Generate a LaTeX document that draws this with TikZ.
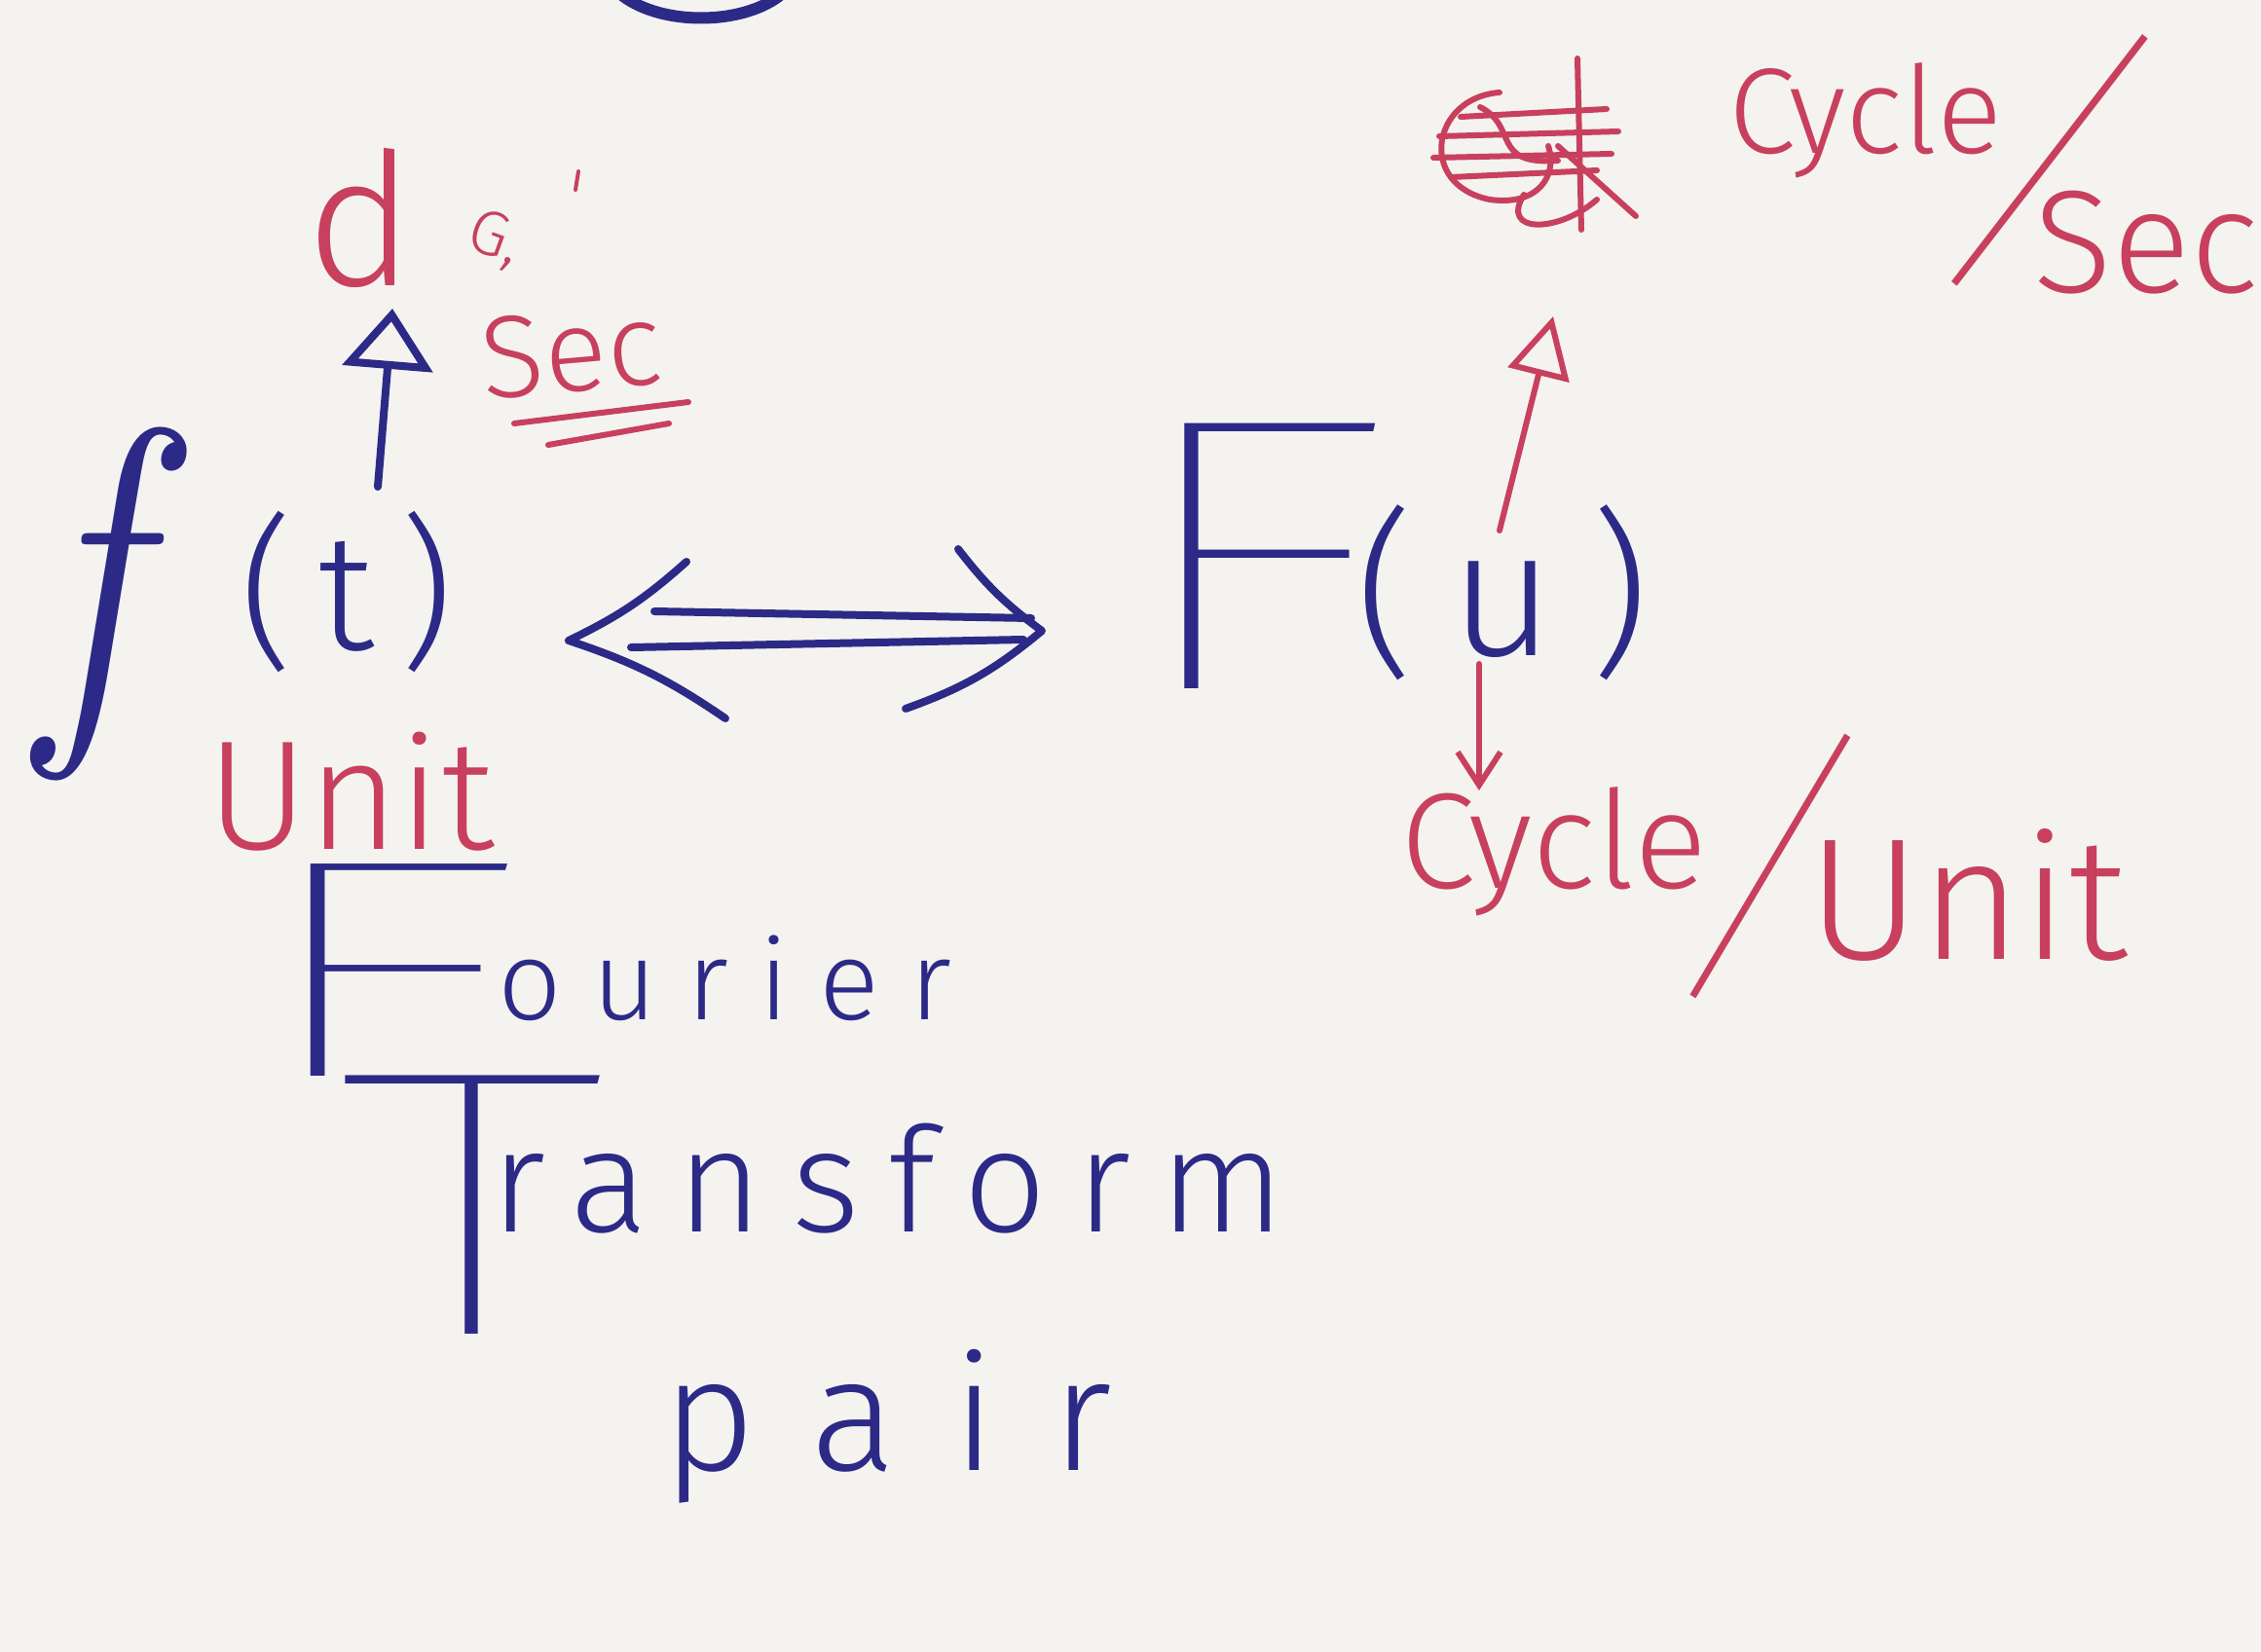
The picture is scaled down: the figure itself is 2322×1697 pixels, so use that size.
\documentclass[tikz,border=0pt]{standalone}
\usepackage{fontspec}
\usetikzlibrary{arrows.meta,calc}
\IfFontExistsTF{Fira Sans Light}{\newfontfamily\inkL{Fira Sans Light}}{\newfontfamily\inkL{Fira Sans}}
\IfFontExistsTF{Fira Sans Thin}{\newfontfamily\inkT{Fira Sans Thin}}{%
  \IfFontExistsTF{Fira Sans ExtraLight}{\newfontfamily\inkT{Fira Sans ExtraLight}}{\newfontfamily\inkT{Fira Sans}}}
\definecolor{paper}{HTML}{F4F3F0}
\definecolor{blueink}{HTML}{2C2A86}
\definecolor{redink}{HTML}{C8405E}
\newcommand\fsz[1]{\fontsize{#1}{#1}\selectfont}
\tikzset{
  bstroke/.style={draw=blueink, line width=8pt, line cap=round, line join=round},
  rstroke/.style={draw=redink, line width=6pt, line cap=round, line join=round},
  btext/.style={text=blueink, inner sep=0pt, font=\inkL},
  rtext/.style={text=redink, inner sep=0pt, font=\inkL},
}
\begin{document}
\begin{tikzpicture}[x=1pt,y=-1pt]
\fill[paper] (0,0) rectangle (2322,1697);
\useasboundingbox (0,0) rectangle (2322,1697);

% blue arc cut by the top edge
\draw[bstroke, line width=12pt] (640,-4) .. controls (680,26) and (760,26) .. (800,-4);

% ---------- top-left red annotation ----------
\node[rtext, anchor=base] (dlab) at (370,293) {\fsz{190}d};
\node[rtext, rotate=-20] (glab) at (508,246) {\fsz{65}G,};
\draw[rstroke, line width=4pt] (594,176) -- (591,195);
\node[rtext, anchor=base, rotate=5] (sec1) at (590,402) {\fsz{120}Sec};
\coordinate (u1a) at (528,435); \coordinate (u1b) at (707,413);
\coordinate (u2a) at (563,457); \coordinate (u2b) at (687,435);
\draw[rstroke] (u1a) -- (u1b);
\draw[rstroke] (u2a) -- (u2b);

% ---------- f(t) ----------
\node[btext, anchor=base west] (ft) at (40,720)
  {\scalebox{0.85}[1]{\fsz{400}\rmfamily\itshape f}\hspace{104pt}\raisebox{53pt}{\fsz{170}\addfontfeature{LetterSpace=15}(t)}};
\coordinate (ba1) at (388,500); \coordinate (ba2) at (403,317);
\draw[bstroke, -{Triangle[open, length=62pt, width=92pt, line width=8pt]}] (ba1) -- (ba2);

% ---------- double arrow ----------
\coordinate (dl) at (584,658);
\coordinate (dr) at (1070,648);
\draw[bstroke] ($(dl)+(121,-81)$) to[bend left=8] (dl) to[bend left=8] ($(dl)+(161,80)$);
\draw[bstroke] ($(dl)+(88,-30)$) -- ($(dr)+(-11,-13)$);
\draw[bstroke] ($(dl)+(64,7)$) -- ($(dr)+(-19,9)$);
\draw[bstroke] ($(dr)+(-86,-84)$) to[bend right=8] (dr) to[bend left=10] ($(dr)+(-140,80)$);

% ---------- F(u) ----------
\node[btext, anchor=base west] (Fu) at (1140,707)
  {\scalebox{1.55}[1]{\inkT\fsz{400}F}\kern-40pt\raisebox{34pt}{\fsz{185}\addfontfeature{LetterSpace=20}(u)}};
\coordinate (ra1) at (1540,545); \coordinate (ra2) at (1595,325);
\draw[rstroke, -{Triangle[open, length=62pt, width=64pt, line width=6pt]}] (ra1) -- (ra2);
\coordinate (da1) at (1519,682); \coordinate (da2) at (1519,812);
\draw[rstroke, -{Straight Barb[length=34pt, width=44pt, line width=6pt]}] (da1) -- (da2);

% ---------- scribble ----------
\begin{scope}[rstroke, line width=6pt]
\draw (1620,60) -- (1624,236);
\draw (1540,95) .. controls (1470,100) and (1455,190) .. (1530,205) .. controls (1580,212) and (1600,180) .. (1590,150);
\draw (1500,120) -- (1650,112);
\draw (1478,140) -- (1662,135);
\draw (1472,162) -- (1655,158);
\draw (1490,182) -- (1640,175);
\draw (1520,110) .. controls (1560,130) and (1530,170) .. (1600,165);
\draw (1600,150) -- (1680,222);
\draw (1565,200) .. controls (1540,240) and (1600,240) .. (1640,205);
\end{scope}

% ---------- top-right units: Cycle / Sec ----------
\node[rtext, anchor=base west] (cyc1) at (1775,157) {\fsz{125}Cycle};
\node[rtext, rotate=-23] (sl1) at (2105,165) {\inkT\fsz{350}/};
\node[rtext, anchor=base west] (sec2) at (2088,300) {\fsz{150}Sec};

% ---------- bottom-right units: Cycle / Unit ----------
\node[rtext, anchor=base west] (cyc2) at (1438,912) {\fsz{140}Cycle};
\node[rtext, rotate=-16] (sl2) at (1818,890) {\inkT\fsz{340}/};
\node[rtext, anchor=base west] (unit2) at (1856,985) {\fsz{178}Unit};

% ---------- left unit ----------
\node[rtext, anchor=base west] (unit1) at (212,872) {\fsz{160}Unit};

% ---------- Fourier Transform pair ----------
\node[btext, anchor=base west] (four) at (240,1105)
  {\scalebox{2.0}[1]{\inkT\fsz{320}F}\kern-30pt\raisebox{58pt}{\fsz{115}\addfontfeature{LetterSpace=27}ourier}};
\node[btext, anchor=base west] (trans) at (345,1370)
  {\scalebox{1.5}[1]{\inkT\fsz{390}T}\kern-119pt\raisebox{105pt}{\fsz{150}\addfontfeature{LetterSpace=20}ransform}};
\node[btext, anchor=base west] (pair) at (680,1510)
  {\fsz{165}\addfontfeature{LetterSpace=35}pair};
\end{tikzpicture}
\end{document}
